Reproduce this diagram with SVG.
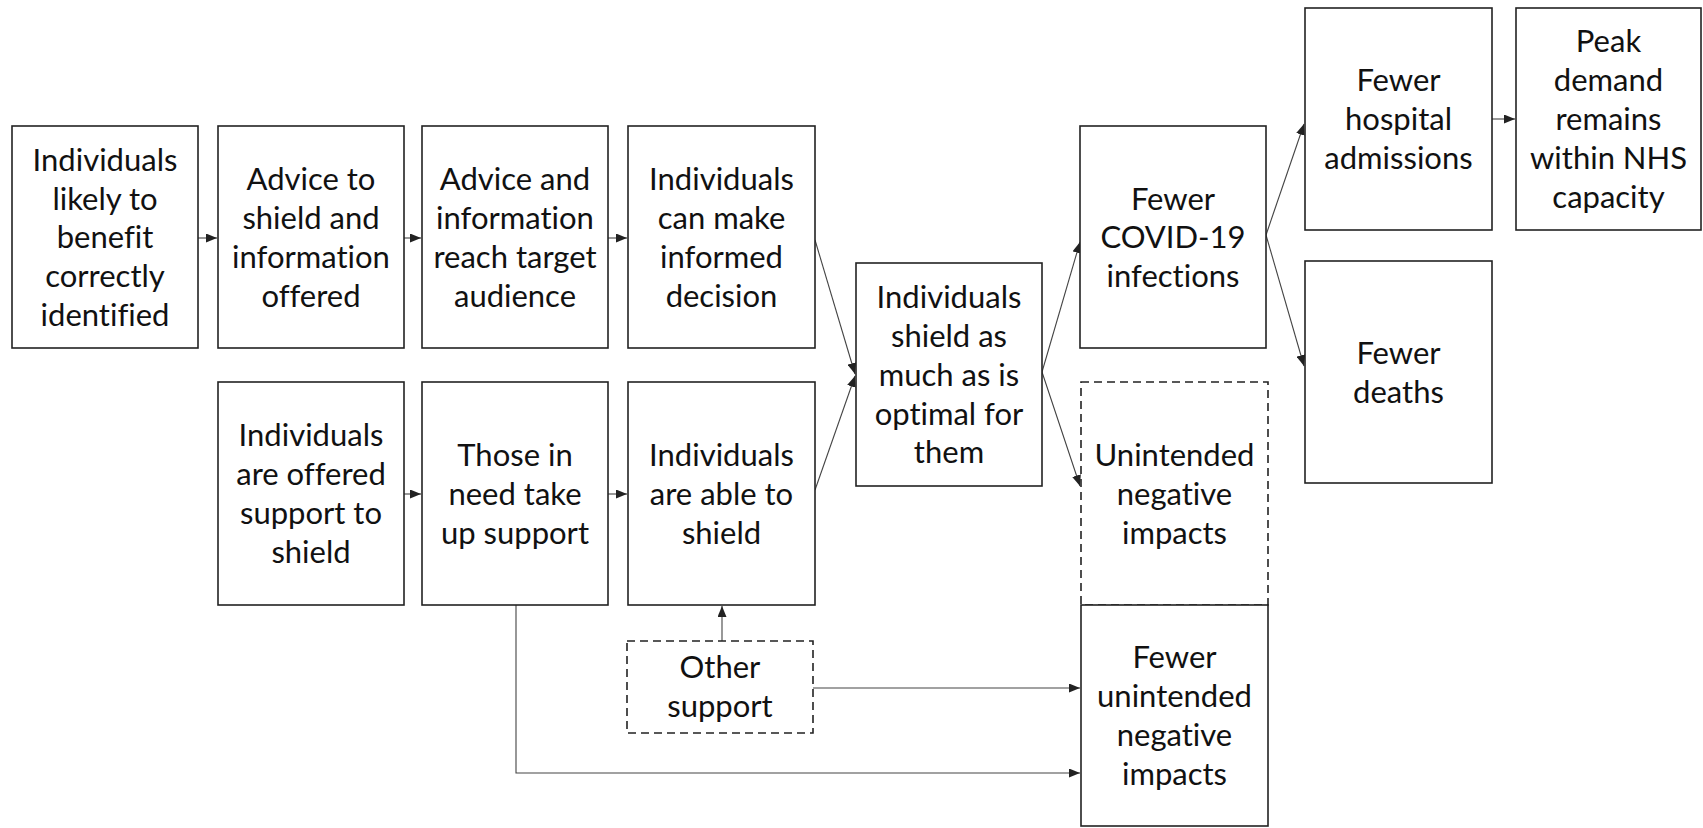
<svg xmlns="http://www.w3.org/2000/svg" width="1703" height="828" viewBox="0 0 1703 828">
<defs>
<marker id="arr" markerUnits="userSpaceOnUse" markerWidth="11" markerHeight="9" refX="11" refY="4.5" orient="auto">
<path d="M0,0 L11,4.5 L0,9 z" fill="#222"/>
</marker>
<style>
.box{fill:#fff;stroke:#222;stroke-width:1.6}
.dash{fill:#fff;stroke:#222;stroke-width:1.6;stroke-dasharray:8 5}
.t{font-family:Lato,"Liberation Sans",sans-serif;font-size:31px;fill:#111;text-anchor:middle;font-variant-ligatures:none;font-feature-settings:"liga" 0,"clig" 0}
.c{fill:none;stroke:#444;stroke-width:1.1;marker-end:url(#arr)}
</style>
</defs>
<rect width="1703" height="828" fill="#fff"/>
<g id="connectors">
<path class="c" d="M198,238 L217,238"/>
<path class="c" d="M404,238 L421,238"/>
<path class="c" d="M608,238 L627,238"/>
<path class="c" d="M815,240 L855,374"/>
<path class="c" d="M815,490 L855,376"/>
<path class="c" d="M404,494 L421,494"/>
<path class="c" d="M608,494 L627,494"/>
<path class="c" d="M1042,372 L1080,242"/>
<path class="c" d="M1042,372 L1080,486"/>
<path class="c" d="M1266,235 L1304,124"/>
<path class="c" d="M1266,235 L1304,366"/>
<path class="c" d="M1492,119 L1515,119"/>
<path class="c" d="M722,641 L722,606"/>
<path class="c" d="M813,688 L1080,688"/>
<path class="c" d="M516,605 L516,773 L1080,773"/>
</g>
<g id="n1"><rect class="box" x="12" y="126" width="186" height="222"/>
<text class="t" x="105" y="171">Individuals</text><text class="t" x="105" y="210">likely to</text><text class="t" x="105" y="248">benefit</text><text class="t" x="105" y="287">correctly</text><text class="t" x="105" y="326">identified</text></g>
<g id="n2"><rect class="box" x="218" y="126" width="186" height="222"/>
<text class="t" x="311" y="190">Advice to</text><text class="t" x="311" y="229">shield and</text><text class="t" x="311" y="268">information</text><text class="t" x="311" y="307">offered</text></g>
<g id="n3"><rect class="box" x="422" y="126" width="186" height="222"/>
<text class="t" x="515" y="190">Advice and</text><text class="t" x="515" y="229">information</text><text class="t" x="515" y="268">reach target</text><text class="t" x="515" y="307">audience</text></g>
<g id="n4"><rect class="box" x="628" y="126" width="187" height="222"/>
<text class="t" x="721.5" y="190">Individuals</text><text class="t" x="721.5" y="229">can make</text><text class="t" x="721.5" y="268">informed</text><text class="t" x="721.5" y="307">decision</text></g>
<g id="n5"><rect class="box" x="218" y="382" width="186" height="223"/>
<text class="t" x="311" y="446">Individuals</text><text class="t" x="311" y="485">are offered</text><text class="t" x="311" y="524">support to</text><text class="t" x="311" y="563">shield</text></g>
<g id="n6"><rect class="box" x="422" y="382" width="186" height="223"/>
<text class="t" x="515" y="466">Those in</text><text class="t" x="515" y="505">need take</text><text class="t" x="515" y="544">up support</text></g>
<g id="n7"><rect class="box" x="628" y="382" width="187" height="223"/>
<text class="t" x="721.5" y="466">Individuals</text><text class="t" x="721.5" y="505">are able to</text><text class="t" x="721.5" y="544">shield</text></g>
<g id="n8"><rect class="box" x="856" y="263" width="186" height="223"/>
<text class="t" x="949" y="308">Individuals</text><text class="t" x="949" y="347">shield as</text><text class="t" x="949" y="386">much as is</text><text class="t" x="949" y="425">optimal for</text><text class="t" x="949" y="463">them</text></g>
<g id="n9"><rect class="box" x="1080" y="126" width="186" height="222"/>
<text class="t" x="1173" y="210">Fewer</text><text class="t" x="1173" y="248">COVID-19</text><text class="t" x="1173" y="287">infections</text></g>
<g id="n10"><rect class="dash" x="1081" y="382" width="187" height="223"/>
<text class="t" x="1174.5" y="466">Unintended</text><text class="t" x="1174.5" y="505">negative</text><text class="t" x="1174.5" y="544">impacts</text></g>
<g id="n11"><rect class="box" x="1081" y="605" width="187" height="221"/>
<text class="t" x="1174.5" y="668">Fewer</text><text class="t" x="1174.5" y="707">unintended</text><text class="t" x="1174.5" y="746">negative</text><text class="t" x="1174.5" y="785">impacts</text></g>
<g id="n12"><rect class="box" x="1305" y="8" width="187" height="222"/>
<text class="t" x="1398.5" y="91">Fewer</text><text class="t" x="1398.5" y="130">hospital</text><text class="t" x="1398.5" y="169">admissions</text></g>
<g id="n13"><rect class="box" x="1516" y="8" width="185" height="222"/>
<text class="t" x="1608.5" y="52">Peak</text><text class="t" x="1608.5" y="91">demand</text><text class="t" x="1608.5" y="130">remains</text><text class="t" x="1608.5" y="169">within NHS</text><text class="t" x="1608.5" y="208">capacity</text></g>
<g id="n14"><rect class="box" x="1305" y="261" width="187" height="222"/>
<text class="t" x="1398.5" y="364">Fewer</text><text class="t" x="1398.5" y="403">deaths</text></g>
<g id="n15"><rect class="dash" x="627" y="641" width="186" height="92"/>
<text class="t" x="720" y="678">Other</text><text class="t" x="720" y="717">support</text></g>
</svg>
